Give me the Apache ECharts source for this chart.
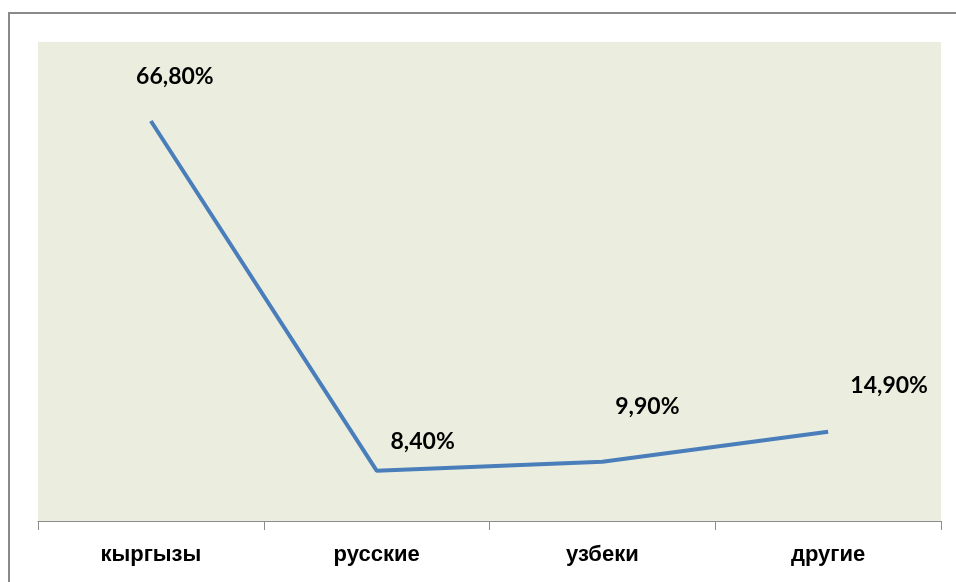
<!DOCTYPE html>
<html>
<head>
<meta charset="utf-8">
<script src="https://cdn.jsdelivr.net/npm/echarts@6/dist/echarts.min.js"></script>
<style>
    html, body { margin: 0; padding: 0; background: #ffffff; }
    #chart { width: 956px; height: 582px; }
</style>
</head>
<body>
<div id="chart"></div>
<script>
const categories = ['кыргызы', 'русские', 'узбеки', 'другие'];
const shares = [66.8, 8.4, 9.9, 14.9];
const labelTexts = ['66,80%', '8,40%', '9,90%', '14,90%'];
// label offsets relative to each point (as placed in the original)
const labelShift = [[24, -44], [46, -29], [45, -55], [61, -46]];

const chart = echarts.init(document.getElementById('chart'));

const option = {
    backgroundColor: '#ffffff',
    animation: false,
    graphic: [{
        type: 'rect',
        shape: { x: 9, y: 13, width: 980, height: 620 },
        style: { fill: 'none', stroke: '#8a8a8a', lineWidth: 2 }
    }],
    grid: {
        left: 38, right: 15, top: 42, bottom: 61,
        show: true,
        backgroundColor: '#ebeedf',
        borderWidth: 0
    },
    xAxis: {
        type: 'category',
        data: categories,
        boundaryGap: true,
        axisLine: { lineStyle: { color: '#8c8c8c', width: 1 } },
        axisTick: { show: true, interval: 0, length: 9, lineStyle: { color: '#8c8c8c' } },
        axisLabel: {
            color: '#000000',
            fontFamily: 'Liberation Sans, Arial',
            fontWeight: 'bold',
            fontSize: 22,
            margin: 23
        }
    },
    yAxis: {
        type: 'value',
        min: 0,
        max: 80,
        show: false,
        splitLine: { show: false }
    },
    series: [{
        type: 'line',
        showSymbol: true,
        symbol: 'circle',
        symbolSize: 2,
        itemStyle: { color: 'rgba(0,0,0,0)', borderWidth: 0 },
        lineStyle: { color: '#4a7ebb', width: 4 },
        data: shares.map((v, i) => ({
            value: v,
            label: {
                show: true,
                position: 'inside',
                offset: labelShift[i],
                formatter: labelTexts[i]
            }
        })),
        label: {
            show: true,
            color: '#000000',
            fontFamily: 'Lato, Open Sans, sans-serif',
            fontWeight: 'bold',
            fontSize: 23
        }
    }]
};

chart.setOption(option);
</script>
</body>
</html>
